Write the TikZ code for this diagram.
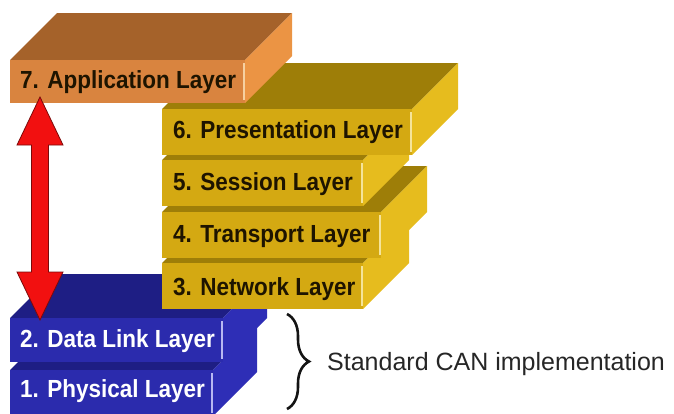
\documentclass[tikz,border=0pt]{standalone}
\usepackage{fontspec}
\setmainfont{Liberation Sans}
\usetikzlibrary{decorations.pathreplacing,calc}
\definecolor{otop}{HTML}{A5622A}
\definecolor{oside}{HTML}{EB9444}
\definecolor{ofront}{HTML}{D9843F}
\definecolor{ohl}{HTML}{F6D0A0}
\definecolor{ytop}{HTML}{9E7E08}
\definecolor{yside}{HTML}{E6BC1E}
\definecolor{yfront}{HTML}{D4A912}
\definecolor{yhl}{HTML}{F5E49A}
\definecolor{btop}{HTML}{1E1E84}
\definecolor{bside}{HTML}{2E2EB6}
\definecolor{bfront}{HTML}{2B2BAD}
\definecolor{bhl}{HTML}{B8B8F2}
\definecolor{arrred}{HTML}{F21010}
\definecolor{arredge}{HTML}{7A0A0A}
\definecolor{labdark}{HTML}{1E1400}
\newcommand\layerslab[6]{%
  \fill[#6top] (#1,#3) -- ({#1+#5},{#3-#5}) -- ({#2+#5},{#3-#5}) -- (#2,#3) -- cycle;
  \fill[#6side] (#2,#3) -- ({#2+#5},{#3-#5}) -- ({#2+#5},{#4-#5}) -- (#2,#4) -- cycle;
  \fill[#6front] (#1,#3) rectangle (#2,#4);
  \draw[#6hl, line width=1.4pt] ({#2-1},{#3+3}) -- ({#2-1},{#4-3});
}
\tikzset{
  lab/.style={anchor=base west, inner sep=0pt, font=\fontsize{22.5}{22.5}\selectfont\bfseries},
  labd/.style={lab, text=labdark},
  labw/.style={lab, text=white},
}
\begin{document}
\begin{tikzpicture}[x=1pt,y=-1pt]
\useasboundingbox (0,0) rectangle (674,413);
% blue slabs
\layerslab{10}{213}{370}{416}{44}{b}
\layerslab{10}{223}{318}{362}{44}{b}
% yellow slabs (bottom first)
\layerslab{162}{363}{263}{309}{46}{y}
\layerslab{162}{381}{212}{258}{46}{y}
\layerslab{162}{363}{160}{206}{46}{y}
\layerslab{162}{412}{109}{155}{46}{y}
% orange slab
\layerslab{10}{245}{60}{103}{47}{o}
% labels
\node[labd] (app) at (20,88) {\scalebox{1}[1.1]{7. Application Layer}};
\node[labd] (pres) at (173,138) {\scalebox{1}[1.1]{6. Presentation Layer}};
\node[labd] (sess) at (173,190) {\scalebox{1}[1.1]{5. Session Layer}};
\node[labd] (trans) at (173,242) {\scalebox{1}[1.1]{4. Transport Layer}};
\node[labd] (net) at (173,295) {\scalebox{1}[1.1]{3. Network Layer}};
\node[labw] (dl) at (20,347) {\scalebox{1}[1.1]{2. Data Link Layer}};
\node[labw] (phy) at (20,397) {\scalebox{1}[1.1]{1. Physical Layer}};
% red double arrow
\coordinate (arrtop) at (40,97);
\coordinate (arrbot) at (40,320);
\filldraw[fill=arrred, draw=arredge, line width=0.8pt, line join=miter]
  (arrtop) -- ++(23,48) -- ++(-14.5,0) -- ($(arrbot)+(8.5,-48)$) -- ++(14.5,0)
  -- (arrbot) -- ++(-23,-48) -- ++(14.5,0) -- ($(arrtop)+(-8.5,48)$) -- ++(-14.5,0) -- cycle;
% brace
\coordinate (bt) at (287,314);
\coordinate (bb) at (287,409);
\draw[decorate, decoration={brace, amplitude=22pt}, line width=2.6pt, color=black!92] (bt) -- (bb);
\node[anchor=base west, inner sep=0pt, font=\fontsize{25}{25}\selectfont, text=black!85] (can) at (327,370) {Standard CAN implementation};
\end{tikzpicture}
\end{document}
